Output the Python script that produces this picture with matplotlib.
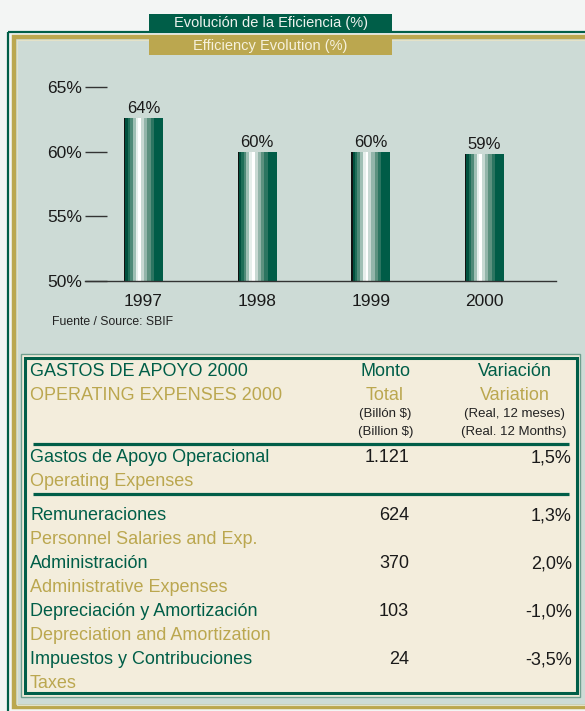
import matplotlib.pyplot as plt
from matplotlib.patches import Rectangle

plt.rcParams["font.family"] = ["Liberation Sans", "DejaVu Sans"]

# chart data
years = ["1997", "1998", "1999", "2000"]
efficiency = [62.6, 60.0, 60.0, 59.8]          # bar heights as drawn
efficiency_labels = ["64%", "60%", "60%", "59%"]  # labels as printed
y_ticks = [50, 55, 60, 65]

# table data
header_es = ["GASTOS DE APOYO 2000", "Monto", "Variación"]
header_en = ["OPERATING EXPENSES 2000", "Total", "Variation"]
unit_es = ["(Billón $)", "(Real, 12 meses)"]
unit_en = ["(Billion $)", "(Real. 12 Months)"]
total_es = "Gastos de Apoyo Operacional"
total_en = "Operating Expenses"
total_amount = "1.121"
total_var = "1,5%"
items_es = ["Remuneraciones", "Administración", "Depreciación y Amortización",
            "Impuestos y Contribuciones"]
items_en = ["Personnel Salaries and Exp.", "Administrative Expenses",
            "Depreciation and Amortization", "Taxes"]
amounts = ["624", "370", "103", "24"]
variations = ["1,3%", "2,0%", "-1,0%", "-3,5%"]

GREEN = "#005e48"
GOLD = "#bba74f"
PANEL = "#cddbd6"
CREAM = "#f3eddc"
PAGE = "#f3f5f4"

W, H = 585, 711
fig = plt.figure(figsize=(W / 100, H / 100), dpi=100, facecolor=PAGE)

# background / frames in pixel coordinates
bg = fig.add_axes([0, 0, 1, 1], zorder=0)
bg.set_xlim(0, W)
bg.set_ylim(H, 0)
bg.axis("off")

bg.add_patch(Rectangle((8, 31.5), 700, 800, fill=False, ec=GREEN, lw=1.6))
bg.add_patch(Rectangle((14, 37), 700, 670, fc=PANEL, ec=GOLD, lw=3.2))
bg.add_patch(Rectangle((16.5, 39.5), 700, 665, fill=False, ec="#e4e2c8", lw=0.8))

# title boxes
bg.add_patch(Rectangle((149, 14), 243, 17, fc=GREEN, ec="none", zorder=3))
bg.add_patch(Rectangle((149, 37), 243, 18, fc=GOLD, ec="none", zorder=3))
bg.text(270.5, 22.5, "Evolución de la Eficiencia (%)", color="#eef2ee",
        fontsize=10.5, ha="center", va="center", zorder=4)
bg.text(270.5, 46, "Efficiency Evolution (%)", color="#f6f1dc",
        fontsize=10.5, ha="center", va="center", zorder=4)

bg.text(52, 322, "Fuente / Source: SBIF", fontsize=8.8, color="#222222",
        ha="left", va="center")

# table box
bg.add_patch(Rectangle((21, 354), 559, 342.5, fc=CREAM, ec="#6f9f8f", lw=1))
bg.add_patch(Rectangle((24.5, 358), 552.5, 335, fc=CREAM, ec=GREEN, lw=2.2))
for yl in [444, 494]:
    bg.plot([33, 569], [yl, yl], color=GREEN, lw=2.3, solid_capstyle="butt")

FS = 13
bg.text(30, 371, header_es[0], color=GREEN, fontsize=FS, va="center")
bg.text(30, 395, header_en[0], color=GOLD, fontsize=FS, va="center")
bg.text(386, 371, header_es[1], color=GREEN, fontsize=FS, va="center", ha="center")
bg.text(385, 395, header_en[1], color=GOLD, fontsize=FS, va="center", ha="center")
bg.text(515, 371, header_es[2], color=GREEN, fontsize=FS, va="center", ha="center")
bg.text(514.5, 395, header_en[2], color=GOLD, fontsize=FS, va="center", ha="center")
bg.text(385.5, 414, unit_es[0], fontsize=9.5, color="#222222", va="center", ha="center")
bg.text(385.5, 432, unit_en[0], fontsize=9.5, color="#222222", va="center", ha="center")
bg.text(514, 414, unit_es[1], fontsize=9.5, color="#222222", va="center", ha="center")
bg.text(514, 432, unit_en[1], fontsize=9.5, color="#222222", va="center", ha="center")

bg.text(30, 458, total_es, color=GREEN, fontsize=FS, va="center")
bg.text(30, 482, total_en, color=GOLD, fontsize=FS, va="center")
bg.text(409, 458, total_amount, color="#1a1a1a", fontsize=FS, va="center", ha="right")
bg.text(572, 458, total_var, color="#1a1a1a", fontsize=FS, va="center", ha="right")

for i, (es, en, amt, var) in enumerate(zip(items_es, items_en, amounts, variations)):
    y0 = 516 + i * 48
    bg.text(30, y0, es, color=GREEN, fontsize=FS, va="center")
    bg.text(30, y0 + 24, en, color=GOLD, fontsize=FS, va="center")
    bg.text(409, y0, amt, color="#1a1a1a", fontsize=FS, va="center", ha="right")
    bg.text(572, y0, var, color="#1a1a1a", fontsize=FS, va="center", ha="right")

# bar chart
ax = fig.add_axes([85 / W, (H - 281) / H, (556 - 85) / W, (281 - 87) / H], zorder=1)
ax.set_facecolor("none")

stripe_colors = ["#111111", "#00503e", "#1f6e58", "#4f8a78", "#9fbfb4", "#e7efec",
                 "#ffffff", "#c8d9d3", "#93b5aa", "#5c917f", "#2c7561", "#005c47"]
stripe_widths = [1.3, 2.3, 2.3, 2.7, 3.3, 2.7, 2.7, 3.0, 3.3, 3.3, 3.3, 9.3]
bar_w = 0.343
total_w = sum(stripe_widths)

for i, v in enumerate(efficiency):
    left = i - bar_w / 2
    for c, sw in zip(stripe_colors, stripe_widths):
        w = bar_w * sw / total_w
        ax.bar(left, v - 50, bottom=50, width=w, align="edge", color=c,
               linewidth=0, antialiased=False)
        left += w
    ax.annotate(efficiency_labels[i], (i, v), xytext=(0, 1.5), textcoords="offset points",
                ha="center", va="bottom", fontsize=12, color="#1a1a1a")

ax.set_xlim(-0.515, 3.629)
ax.set_ylim(50, 65)
ax.set_yticks(y_ticks)
ax.set_yticklabels([f"{t}%" for t in y_ticks])
ax.set_xticks(range(len(years)))
ax.set_xticklabels(years)
ax.tick_params(axis="y", direction="in", length=16, width=1, color="#333333",
               pad=2, labelsize=12.5, labelcolor="#1a1a1a")
ax.tick_params(axis="x", length=0, pad=9, labelsize=12.5, labelcolor="#1a1a1a")
for side in ["left", "top", "right"]:
    ax.spines[side].set_visible(False)
ax.spines["bottom"].set_color("#333333")
ax.spines["bottom"].set_linewidth(1)

fig.savefig("out.png", dpi=100, facecolor=PAGE)
